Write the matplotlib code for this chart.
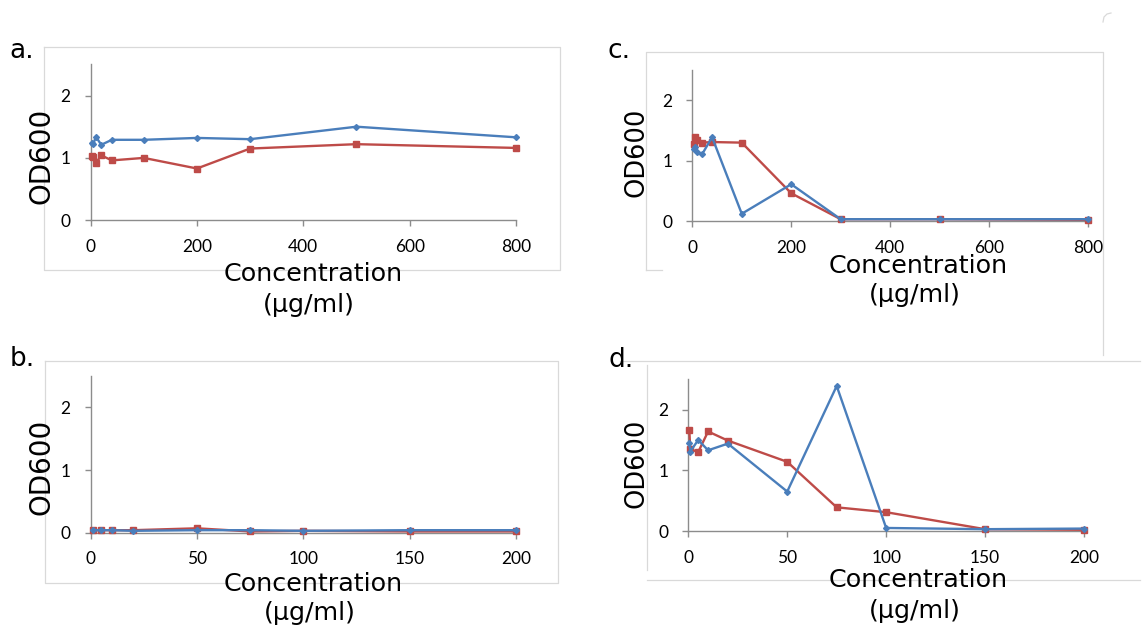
import matplotlib
matplotlib.use("Agg")
import matplotlib.pyplot as plt
from matplotlib.lines import Line2D

# ---- data -------------------------------------------------------------
conc_ac = [2.5, 5, 10, 20, 40, 100, 200, 300, 500, 800]
a_blue = [1.24, 1.22, 1.34, 1.21, 1.29, 1.29, 1.32, 1.30, 1.50, 1.33]
a_red = [1.03, 1.02, 0.92, 1.04, 0.96, 1.00, 0.83, 1.15, 1.22, 1.16]

c_blue = [1.19, 1.23, 1.14, 1.11, 1.39, 0.12, 0.61, 0.03, 0.03, 0.03]
c_red = [1.28, 1.40, 1.34, 1.30, 1.31, 1.30, 0.46, 0.03, 0.03, 0.02]

conc_b = [1, 5, 10, 20, 50, 75, 100, 150, 200]
b_blue = [0.04, 0.04, 0.04, 0.03, 0.04, 0.04, 0.03, 0.04, 0.04]
b_red = [0.04, 0.04, 0.04, 0.04, 0.07, 0.02, 0.03, 0.02, 0.02]

conc_d = [0.5, 1, 5, 10, 20, 50, 75, 100, 150, 200]
d_blue = [1.45, 1.31, 1.50, 1.33, 1.44, 0.65, 2.39, 0.05, 0.03, 0.04]
d_red = [1.67, 1.35, 1.30, 1.64, 1.49, 1.14, 0.39, 0.31, 0.03, 0.02]

xticks_ac = [0, 200, 400, 600, 800]
xticks_bd = [0, 50, 100, 150, 200]
yticks = [0, 1, 2]

BLUE = "#4A7EBB"
RED = "#BE4B48"
AXIS = "#8C8C8C"
FRAME = "#D9D9D9"

W, H = 1145, 628
fig = plt.figure(figsize=(W / 100, H / 100), dpi=100)
fig.patch.set_facecolor("white")


def fx(px):
    return px / W


def fy(py):
    return 1 - py / H


def frame_line(xs, ys):
    fig.add_artist(Line2D([fx(v) for v in xs], [fy(v) for v in ys],
                          color=FRAME, lw=0.9, transform=fig.transFigure,
                          zorder=0))


# faint chart-area borders
frame_line([43.5, 560, 560, 43.5, 43.5], [46.5, 46.5, 269.5, 269.5, 46.5])
frame_line([45, 558, 558, 45, 45], [361, 361, 583, 583, 361])
frame_line([646, 646, 1103, 1103], [270, 52, 52, 355])
frame_line([646, 662], [270, 270])
frame_line([1103, 1104, 1107, 1111], [22, 17, 14, 13])
frame_line([647, 647], [365, 570])
frame_line([647, 1140], [579.5, 579.5])
frame_line([620, 1140], [360.5, 360.5])


def panel(left, top, right, bottom, x, red, blue, xmax, xticks):
    ax = fig.add_axes([fx(left), fy(bottom), (right - left) / W,
                       (bottom - top) / H])
    ax.plot(x, red, color=RED, lw=1.7, marker="s", ms=3.8,
            clip_on=False, zorder=3)
    ax.plot(x, blue, color=BLUE, lw=1.7, marker="D", ms=3.0,
            clip_on=False, zorder=4)
    ax.set_xlim(0, xmax)
    ax.set_ylim(0, 2.5)
    ax.set_xticks(xticks)
    ax.set_yticks(yticks)
    for s in ("top", "right"):
        ax.spines[s].set_visible(False)
    for s in ("left", "bottom"):
        ax.spines[s].set_color(AXIS)
        ax.spines[s].set_linewidth(1.0)
    ax.tick_params(direction="out", length=4.5, width=1.0, color=AXIS,
                   labelsize=12.5, labelcolor="black")
    ax.tick_params(axis="x", pad=9)
    ax.tick_params(axis="y", pad=10)
    for lab in ax.get_xticklabels() + ax.get_yticklabels():
        lab.set_fontfamily("Lato")
    ax.patch.set_alpha(0)
    return ax


panel(90.6, 64.3, 516, 220.3, conc_ac, a_red, a_blue, 800, xticks_ac)
panel(90.6, 376, 516, 532.7, conc_b, b_red, b_blue, 200, xticks_bd)
panel(692.3, 70.3, 1088, 221, conc_ac, c_red, c_blue, 800, xticks_ac)
panel(688.3, 379.3, 1084, 531, conc_d, d_red, d_blue, 200, xticks_bd)

LABEL_FONT = "DejaVu Sans"


def txt(px, py, s, size, **kw):
    fig.text(fx(px), fy(py), s, fontsize=size, family=LABEL_FONT,
             color="black", **kw)


# panel letters
txt(9, 58, "a.", 19, ha="left", va="baseline")
txt(10, 366, "b.", 19, ha="left", va="baseline")
txt(607.5, 57.5, "c.", 19, ha="left", va="baseline")
txt(608, 367, "d.", 19, ha="left", va="baseline")

# y-axis titles
txt(42, 156, "OD600", 20, rotation=90, ha="center", va="center")
txt(42, 467, "OD600", 20, rotation=90, ha="center", va="center")
txt(636.5, 152.5, "OD600", 18.5, rotation=90, ha="center", va="center")
txt(636.5, 463.5, "OD600", 18.5, rotation=90, ha="center", va="center")

# x-axis titles (two lines)
for cx, b1, cx2, b2 in [(313, 281, 309, 312),
                        (313, 591, 309.5, 620),
                        (918, 273.3, 915, 301.7),
                        (918, 586.7, 915, 618.3)]:
    txt(cx, b1, "Concentration", 18.3, ha="center", va="baseline")
    txt(cx2, b2, "(μg/ml)", 18.3, ha="center", va="baseline")

fig.savefig("out.png", dpi=100, facecolor="white")
